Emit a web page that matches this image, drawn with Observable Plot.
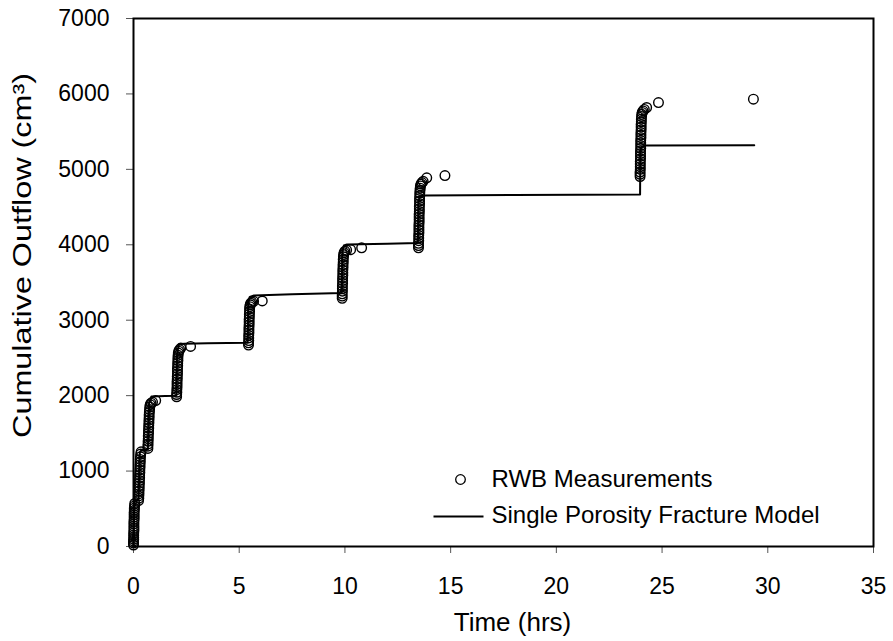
<!DOCTYPE html>
<html>
<head>
<meta charset="utf-8">
<script src="https://cdn.jsdelivr.net/npm/d3@7"></script>
<script src="https://cdn.jsdelivr.net/npm/@observablehq/plot@0.6"></script>
<style>
  html, body { margin: 0; padding: 0; background: #ffffff; }
  #chart svg { display: block; }
</style>
</head>
<body>
<div id="chart"></div>
<script>
// ---- Data ----
const xTicks = [0, 5, 10, 15, 20, 25, 30, 35];
const yTicks = [0, 1000, 2000, 3000, 4000, 5000, 6000, 7000];
const xTitle = "Time (hrs)";
const yTitle = "Cumulative Outflow (cm³)";
const seriesNames = ["RWB Measurements", "Single Porosity Fracture Model"];

// RWB measurements (hrs, cm3)
const measTime = [
  // step 1
  0.00,0.00,0.00,0.01,0.01,0.01,0.01,0.02,0.02,0.02,0.02,0.02,0.03,0.03,0.03,0.03,0.04,0.04,0.05,0.06,
  // step 2
  0.24,0.25,0.25,0.26,0.26,0.27,0.27,0.28,0.28,0.29,0.29,0.30,0.30,0.31,0.31,0.32,0.32,0.33,0.34,0.36,
  // step 3
  0.68,0.68,0.69,0.69,0.70,0.70,0.71,0.71,0.72,0.72,0.73,0.73,0.74,0.74,0.75,0.76,0.77,0.79,0.83,0.90,1.05,
  // step 4
  2.04,2.04,2.05,2.05,2.06,2.06,2.06,2.07,2.07,2.08,2.08,2.08,2.09,2.09,2.10,2.10,2.11,2.12,2.14,2.18,2.24,2.70,
  // step 5
  5.44,5.44,5.45,5.45,5.45,5.46,5.46,5.46,5.47,5.47,5.47,5.48,5.48,5.49,5.49,5.50,5.52,5.55,5.60,5.68,6.09,
  // step 6
  9.87,9.87,9.87,9.88,9.88,9.88,9.89,9.89,9.89,9.90,9.90,9.90,9.91,9.91,9.92,9.92,9.93,9.94,9.96,10.00,10.08,10.27,10.79,
  // step 7
  13.48,13.48,13.48,13.49,13.49,13.49,13.50,13.50,13.50,13.50,13.51,13.51,13.51,13.51,13.52,13.52,13.52,13.53,13.53,13.53,13.54,13.54,13.55,13.56,13.57,13.60,13.64,13.70,13.87,14.73,
  // step 8
  23.96,23.96,23.96,23.97,23.97,23.97,23.97,23.98,23.98,23.98,23.98,23.99,23.99,23.99,23.99,24.00,24.00,24.00,24.01,24.01,24.01,24.02,24.02,24.03,24.04,24.06,24.10,24.16,24.27,24.83,29.32
];
const measOutflow = [
  // step 1
  20,45,70,95,120,150,180,210,240,270,300,330,360,390,420,450,480,510,540,570,
  // step 2
  610,640,670,700,735,770,805,840,875,910,945,980,1015,1050,1085,1120,1155,1190,1225,1255,
  // step 3
  1300,1330,1360,1395,1430,1465,1500,1535,1570,1605,1640,1675,1710,1745,1780,1815,1850,1880,1900,1915,1935,
  // step 4
  1985,2015,2045,2080,2115,2150,2185,2220,2255,2290,2325,2360,2395,2430,2465,2500,2535,2565,2590,2610,2630,2652,
  // step 5
  2670,2700,2730,2765,2800,2835,2870,2905,2940,2975,3010,3045,3080,3115,3150,3180,3205,3225,3240,3250,3255,
  // step 6
  3290,3320,3350,3385,3420,3455,3490,3525,3560,3595,3630,3665,3700,3735,3770,3805,3840,3870,3895,3915,3928,3935,3960,
  // step 7
  3960,3990,4020,4055,4090,4125,4160,4195,4230,4265,4300,4335,4370,4405,4440,4475,4510,4545,4580,4615,4650,4685,4720,4750,4780,4805,4825,4842,4888,4918,
  // step 8
  4905,4935,4965,5000,5035,5070,5105,5140,5175,5210,5245,5280,5315,5350,5385,5420,5455,5490,5525,5560,5595,5630,5665,5700,5730,5755,5775,5795,5820,5886,5930
];

// Single porosity fracture model (hrs, cm3)
const modelTime = [0, 0.02, 0.06, 0.24, 0.30, 0.36, 0.68, 0.74, 0.85, 1.5, 2.03, 2.06, 2.15, 2.4, 3.5, 5.4, 5.43, 5.5, 5.7, 7.5, 9.85, 9.88, 9.95, 10.1, 12.0, 13.45, 13.48, 13.55, 13.7, 18.0, 23.96, 23.97, 24.05, 24.2, 29.36];
const modelOutflow = [0, 300, 600, 620, 1250, 1270, 1290, 1900, 1990, 1995, 2000, 2560, 2680, 2688, 2693, 2700, 3250, 3310, 3328, 3345, 3362, 3900, 3990, 4005, 4013, 4025, 4580, 4640, 4653, 4660, 4667, 5250, 5300, 5316, 5320];

// ---- Build tables ----
const meas = measTime.map((t, i) => ({t, v: measOutflow[i]}));
const model = modelTime.map((t, i) => ({t, v: modelOutflow[i]}));

const FONT = "'Liberation Sans', Arial, Helvetica, sans-serif";

// custom legend symbol: a short horizontal line
const lineSymbol = {
  draw(context) {
    context.moveTo(-25, 0);
    context.lineTo(25, 0);
  }
};

const chart = Plot.plot({
  width: 893,
  height: 641,
  marginLeft: 133,
  marginRight: 20,
  marginTop: 18,
  marginBottom: 95,
  style: {fontFamily: FONT, fontSize: "23px", background: "#ffffff", color: "#000000"},
  x: {domain: [0, 35], ticks: xTicks},
  y: {domain: [0, 7000], ticks: yTicks},
  marks: [
    Plot.axisX({ticks: xTicks, tickSize: 7, tickPadding: 24, label: null, stroke: "#555", fontSize: 23, tickFormat: d => String(d)}),
    Plot.axisY({ticks: yTicks, tickSize: 7, tickPadding: 17, label: null, stroke: "#555", fontSize: 23, tickFormat: d => String(d)}),
    Plot.frame({stroke: "#000", strokeWidth: 2}),
    Plot.line(model, {x: "t", y: "v", stroke: "#000", strokeWidth: 2}),
    Plot.dot(meas, {x: "t", y: "v", r: 4.8, stroke: "#000", strokeWidth: 1.4, fill: "none"}),
    // axis titles
    Plot.text([xTitle], {frameAnchor: "bottom", dx: 9, dy: 76, lineAnchor: "middle", textAnchor: "middle", fontSize: 26, fill: "#000"}),
    Plot.text([yTitle], {frameAnchor: "left", dx: -111, dy: -27, rotate: -90, lineAnchor: "middle", textAnchor: "middle", fontSize: 25, fill: "#000"}),
    // legend
    Plot.dot([seriesNames[0]], {frameAnchor: "bottom-left", dx: 327, dy: -67, r: 4.8, stroke: "#000", strokeWidth: 1.3, fill: "none"}),
    Plot.dot([seriesNames[1]], {frameAnchor: "bottom-left", dx: 325, dy: -30, symbol: lineSymbol, stroke: "#000", strokeWidth: 2, fill: "none"}),
    Plot.text([seriesNames[0]], {frameAnchor: "bottom-left", dx: 358, dy: -67, textAnchor: "start", lineAnchor: "middle", fontSize: 24, fill: "#000"}),
    Plot.text([seriesNames[1]], {frameAnchor: "bottom-left", dx: 358, dy: -31, textAnchor: "start", lineAnchor: "middle", fontSize: 24, fill: "#000"})
  ]
});
// the reference's rotated axis title is drawn elongated along its direction
chart.querySelectorAll("text").forEach(el => {
  if (el.textContent === yTitle) {
    el.setAttribute("textLength", 365);
    el.setAttribute("lengthAdjust", "spacingAndGlyphs");
  }
});
document.getElementById("chart").appendChild(chart);
</script>
</body>
</html>
